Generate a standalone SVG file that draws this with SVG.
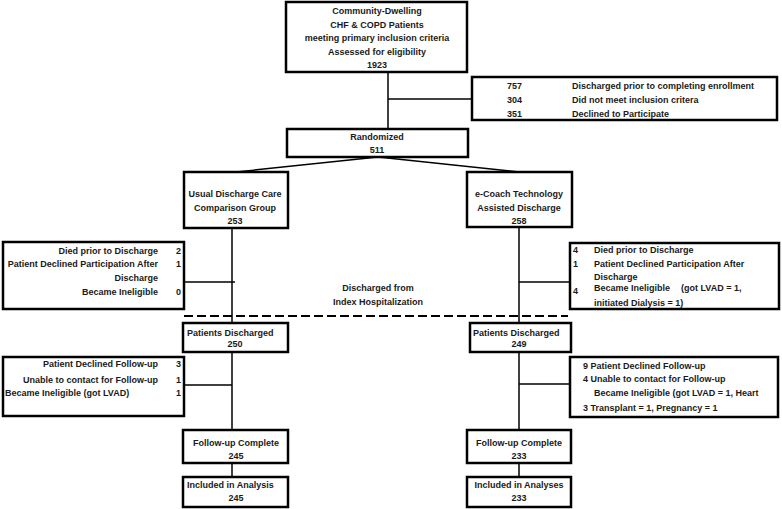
<svg xmlns="http://www.w3.org/2000/svg" width="782" height="509" viewBox="0 0 782 509">
<style>
.box{fill:#fff;stroke:#000;stroke-width:2.5}
.ln{stroke:#000;stroke-width:1.5;fill:none}
.dash{stroke:#000;stroke-width:2.2;stroke-dasharray:9 4;fill:none}
text{font-family:"Liberation Sans",Arial,sans-serif;font-size:9px;font-weight:bold;fill:#1a1a1a}
.c{text-anchor:middle}
.r{text-anchor:end}
</style>
<rect width="782" height="509" fill="#fff"/>
<g id="connectors">
<line class="ln" x1="388" y1="72" x2="388" y2="129"/>
<line class="ln" x1="388" y1="99" x2="472" y2="99"/>
<line class="ln" x1="378" y1="157" x2="236" y2="172"/>
<line class="ln" x1="378" y1="157" x2="519" y2="172"/>
<line class="ln" x1="232" y1="228" x2="232" y2="323"/>
<line class="ln" x1="519" y1="227" x2="519" y2="323"/>
<line class="ln" x1="184" y1="282" x2="235" y2="282"/>
<line class="ln" x1="519" y1="282" x2="570" y2="282"/>
<line class="dash" x1="184" y1="316" x2="568" y2="316"/>
<line class="ln" x1="232" y1="352" x2="232" y2="430"/>
<line class="ln" x1="519" y1="352" x2="519" y2="430"/>
<line class="ln" x1="184" y1="385" x2="232" y2="385"/>
<line class="ln" x1="519" y1="384" x2="570" y2="384"/>
<line class="ln" x1="232" y1="463" x2="232" y2="477"/>
<line class="ln" x1="519" y1="463" x2="519" y2="477"/>
</g>
<g id="assessed">
<rect class="box" x="286" y="2" width="181" height="70"/>
<text class="c" x="377" y="14">Community-Dwelling</text>
<text class="c" x="377" y="27.5">CHF &amp; COPD Patients</text>
<text class="c" x="377" y="41">meeting primary inclusion criteria</text>
<text class="c" x="377" y="54.5">Assessed for eligibility</text>
<text class="c" x="377" y="68">1923</text>
</g>
<g id="excluded">
<rect class="box" x="472" y="77" width="305" height="43"/>
<text x="507" y="89">757</text>
<text x="572" y="89">Discharged prior to completing enrollment</text>
<text x="507" y="103">304</text>
<text x="572" y="103">Did not meet inclusion critera</text>
<text x="507" y="117">351</text>
<text x="572" y="117">Declined to Participate</text>
</g>
<g id="randomized">
<rect class="box" x="287" y="129" width="181" height="28"/>
<text class="c" x="377" y="139.5">Randomized</text>
<text class="c" x="377" y="152.5">511</text>
</g>
<g id="usual">
<rect class="box" x="184" y="172" width="104" height="56"/>
<text class="c" x="235" y="196.5">Usual Discharge Care</text>
<text class="c" x="235" y="210.5">Comparison Group</text>
<text class="c" x="235" y="224">253</text>
</g>
<g id="ecoach">
<rect class="box" x="467" y="172" width="105" height="55"/>
<text class="c" x="519" y="196.5">e-Coach Technology</text>
<text class="c" x="519" y="210.5">Assisted Discharge</text>
<text class="c" x="519" y="224">258</text>
</g>
<g id="left-excl1">
<rect class="box" x="3" y="242" width="181" height="67"/>
<text class="r" x="158" y="253.5">Died prior to Discharge</text>
<text class="r" x="181" y="253.5">2</text>
<text class="r" x="158" y="267">Patient Declined Participation After</text>
<text class="r" x="181" y="267">1</text>
<text class="r" x="158" y="280.5">Discharge</text>
<text class="r" x="158" y="294.5">Became Ineligible</text>
<text class="r" x="181" y="294.5">0</text>
</g>
<g id="right-excl1">
<rect class="box" x="570" y="243" width="209" height="66"/>
<text x="573" y="252.5">4</text>
<text x="594" y="252.5">Died prior to Discharge</text>
<text x="573" y="266.5">1</text>
<text x="594" y="266.5">Patient Declined Participation After</text>
<text x="594" y="279.5">Discharge</text>
<text x="573" y="294">4</text>
<text x="594" y="290.5">Became Ineligible</text>
<text x="681" y="290.5">(got LVAD = 1,</text>
<text x="594" y="305.5">initiated Dialysis = 1)</text>
</g>
<g id="discharged-label">
<text class="c" x="378" y="290.5">Discharged from</text>
<text class="c" x="378" y="304.5">Index Hospitalization</text>
</g>
<g id="left-discharged">
<rect class="box" x="183" y="323" width="105" height="29"/>
<text x="187" y="336">Patients Discharged</text>
<text class="c" x="235" y="347">250</text>
</g>
<g id="right-discharged">
<rect class="box" x="470" y="323" width="101" height="29"/>
<text x="473" y="336">Patients Discharged</text>
<text class="c" x="519" y="347">249</text>
</g>
<g id="left-excl2">
<rect class="box" x="3" y="357" width="181" height="59"/>
<text class="r" x="158" y="366.5">Patient Declined Follow-up</text>
<text class="r" x="181" y="366.5">3</text>
<text class="r" x="158" y="382.5">Unable to contact for Follow-up</text>
<text class="r" x="181" y="382.5">1</text>
<text x="5" y="395.5">Became Ineligible (got LVAD)</text>
<text class="r" x="181" y="395.5">1</text>
</g>
<g id="right-excl2">
<rect class="box" x="570" y="357" width="208" height="60"/>
<text x="583" y="368.5">9 Patient Declined Follow-up</text>
<text x="583" y="381.5">4 Unable to contact for Follow-up</text>
<text x="594" y="395.5">Became Ineligible (got LVAD = 1, Heart</text>
<text x="583" y="410.5">3 Transplant = 1, Pregnancy = 1</text>
</g>
<g id="left-followup">
<rect class="box" x="183" y="430" width="105" height="33"/>
<text class="c" x="236" y="445.5">Follow-up Complete</text>
<text class="c" x="236" y="458.5">245</text>
</g>
<g id="right-followup">
<rect class="box" x="467" y="430" width="104" height="33"/>
<text class="c" x="519" y="445.5">Follow-up Complete</text>
<text class="c" x="519" y="458.5">233</text>
</g>
<g id="left-analysis">
<rect class="box" x="183" y="477" width="105" height="30"/>
<text x="187" y="487.5">Included in Analysis</text>
<text class="c" x="236" y="500.5">245</text>
</g>
<g id="right-analysis">
<rect class="box" x="467" y="477" width="104" height="30"/>
<text class="c" x="519" y="487.5">Included in Analyses</text>
<text class="c" x="519" y="500.5">233</text>
</g>
</svg>
